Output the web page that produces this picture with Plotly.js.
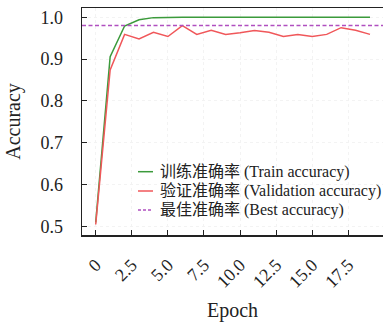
<!DOCTYPE html>
<html>
<head>
<meta charset="utf-8">
<script src="https://cdn.plot.ly/plotly-3.0.1.min.js"></script>
<style>html,body{margin:0;padding:0;background:#fff;overflow:hidden}</style>
</head>
<body>
<div id="chart" style="width:383px;height:326px"></div>
<script>
const epochs = [0,1,2,3,4,5,6,7,8,9,10,11,12,13,14,15,16,17,18,19];
const trainAcc = [0.51,0.906,0.979,0.994,0.999,1.0,1.0,1.0,1.0,1.0,1.0,1.0,1.0,1.0,1.0,1.0,1.0,1.0,1.0,1.0];
const valAcc = [0.505,0.874,0.959,0.948,0.964,0.954,0.980,0.959,0.969,0.959,0.963,0.968,0.964,0.954,0.959,0.954,0.959,0.975,0.969,0.959];
const bestAcc = Math.max(...valAcc);
const xTickVals = [0,2.5,5,7.5,10,12.5,15,17.5];
const xTickText = ['0','2.5','5.0','7.5','10.0','12.5','15.0','17.5'];
const yTickVals = [0.5,0.6,0.7,0.8,0.9,1.0];
const yTickText = ['0.5','0.6','0.7','0.8','0.9','1.0'];
const legendNames = ['训练准确率 (Train accuracy)','验证准确率 (Validation accuracy)','最佳准确率 (Best accuracy)'];
const colors = ['#3b9a3b','#f0575a','#b04fc0'];

const serif = '"Liberation Serif", "Noto Sans CJK SC", serif';

const traces = [
  {x: epochs, y: trainAcc, type:'scatter', mode:'lines', line:{color:colors[0], width:1.5}, showlegend:false, hoverinfo:'skip'},
  {x: epochs, y: valAcc, type:'scatter', mode:'lines', line:{color:colors[1], width:1.5}, showlegend:false, hoverinfo:'skip'}
];

const W = 383, H = 326, ml = 82, mr = 0, mt = 8, mb = 91;
const pw = W - ml - mr, ph = H - mt - mb;
function px2x(p){ return (p - ml) / pw; }
function py2y(p){ return 1 - (p - mt) / ph; }

const shapes = [
  {type:'line', xref:'paper', yref:'y', x0:0, x1:1, y0:bestAcc, y1:bestAcc, line:{color:colors[2], width:1.5, dash:'4px,2.5px'}, layer:'above'}
];
const annotations = [];
const legY = [171.7, 191, 210];
for (let i = 0; i < 3; i++) {
  shapes.push({type:'line', xref:'paper', yref:'paper', x0:px2x(138), x1:px2x(153), y0:py2y(legY[i]), y1:py2y(legY[i]), line:{color:colors[i], width:1.5, dash: i===2 ? '3px,2px' : 'solid'}});
  annotations.push({xref:'paper', yref:'paper', x:px2x(158), y:py2y(legY[i]), xanchor:'left', yanchor:'middle', text:legendNames[i], showarrow:false, font:{family:serif, size:16, color:'#222'}});
}

const layout = {
  width: W, height: H,
  margin: {l: ml, r: mr, t: mt, b: mb, pad: 0},
  paper_bgcolor: '#fff', plot_bgcolor: '#fff',
  showlegend: false,
  font: {family: serif, color: '#222'},
  xaxis: {
    range: [-0.95, 19.9], tickmode:'array', tickvals: xTickVals, ticktext: xTickText,
    tickangle: -45, ticks:'inside', ticklen:5, tickcolor:'#222', tickwidth:1,
    showline:true, linecolor:'#222', linewidth:1.5, mirror:true,
    showgrid:true, gridcolor:'#f3f3f3', griddash:'dot', zeroline:false,
    ticklabelstandoff: 11,
    tickfont:{family:serif, size:18, color:'#222'},
    title:{text:'Epoch', font:{family:serif, size:20, color:'#222'}, standoff: 12}
  },
  yaxis: {
    range: [0.48, 1.022], tickmode:'array', tickvals: yTickVals, ticktext: yTickText,
    ticks:'inside', ticklen:5, tickcolor:'#222', tickwidth:1,
    showline:true, linecolor:'#222', linewidth:1.5,
    showgrid:true, gridcolor:'#f3f3f3', griddash:'dot', zeroline:false,
    ticklabelstandoff: 14,
    tickfont:{family:serif, size:18, color:'#222'},
    title:{text:'Accuracy', font:{family:serif, size:20, color:'#222'}, standoff: 14}
  },
  shapes: shapes,
  annotations: annotations
};

Plotly.newPlot('chart', traces, layout, {displayModeBar:false, staticPlot:true});
</script>
</body>
</html>
